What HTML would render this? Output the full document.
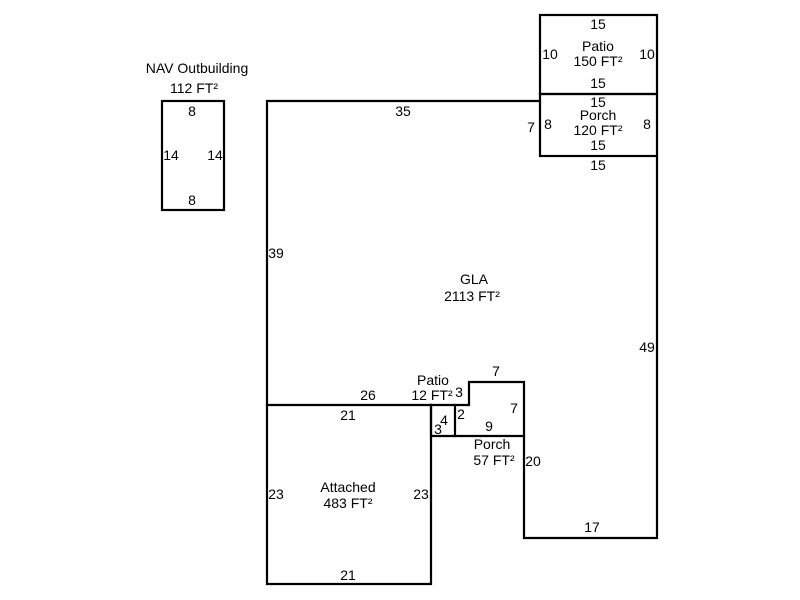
<!DOCTYPE html>
<html><head><style>
html,body{margin:0;padding:0;background:#fff;}
svg{display:block;}
text{font-family:"Liberation Sans",Arial,sans-serif;font-size:14px;fill:#000;text-anchor:middle;}
</style></head><body>
<svg width="800" height="600" viewBox="0 0 800 600">
<g fill="none" stroke="#000" stroke-width="2.2" stroke-linecap="square">
<rect x="162" y="101" width="62" height="109"/>
<rect x="540" y="15" width="117" height="79"/>
<rect x="540" y="94" width="117" height="62"/>
<polyline points="540,101 267,101 267,584 431,584 431,405"/>
<polyline points="657,156 657,538 524,538 524,382 469,382 469,405 267,405"/>
<polyline points="431,405 431,436 524,436"/>
<line x1="455" y1="405" x2="455" y2="436"/>
</g>
<text x="197" y="73">NAV Outbuilding</text>
<text x="194" y="93">112 FT²</text>
<text x="192" y="116">8</text>
<text x="192" y="205">8</text>
<text x="171" y="160">14</text>
<text x="215" y="160">14</text>
<text x="598" y="29">15</text>
<text x="598" y="51">Patio</text>
<text x="598" y="66">150 FT²</text>
<text x="598" y="88">15</text>
<text x="550" y="59">10</text>
<text x="647" y="59">10</text>
<text x="598" y="107">15</text>
<text x="598" y="120">Porch</text>
<text x="598" y="135">120 FT²</text>
<text x="598" y="150">15</text>
<text x="548" y="129">8</text>
<text x="647" y="129">8</text>
<text x="531" y="132">7</text>
<text x="598" y="170">15</text>
<text x="403" y="116">35</text>
<text x="276" y="258">39</text>
<text x="474" y="284">GLA</text>
<text x="472" y="301">2113 FT²</text>
<text x="647" y="352">49</text>
<text x="592" y="532">17</text>
<text x="533" y="466">20</text>
<text x="496" y="376">7</text>
<text x="514" y="413">7</text>
<text x="489" y="431">9</text>
<text x="459" y="397">3</text>
<text x="461" y="419">2</text>
<text x="444" y="425">4</text>
<text x="438" y="434">3</text>
<text x="433" y="385">Patio</text>
<text x="432" y="400">12 FT²</text>
<text x="368" y="400">26</text>
<text x="348" y="420">21</text>
<text x="492" y="449">Porch</text>
<text x="494" y="465">57 FT²</text>
<text x="348" y="492">Attached</text>
<text x="348" y="508">483 FT²</text>
<text x="276" y="499">23</text>
<text x="421" y="499">23</text>
<text x="348" y="580">21</text>
</svg>
</body></html>
